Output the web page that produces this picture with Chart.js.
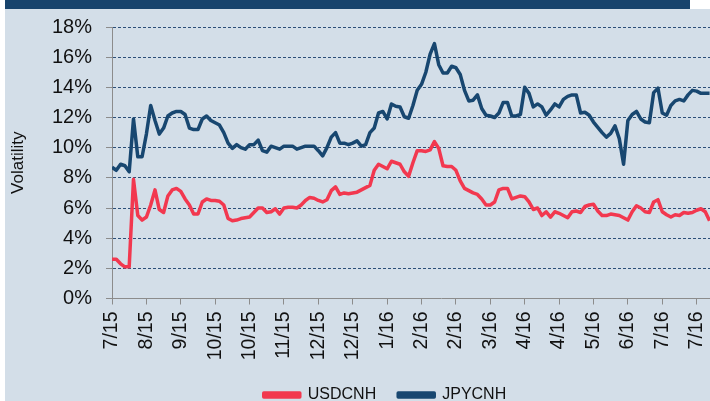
<!DOCTYPE html>
<html>
<head>
<meta charset="utf-8">
<script src="https://cdn.jsdelivr.net/npm/chart.js@4"></script>
<style>
  body{ margin:0; background:#fff; }
  #wrap{ position:relative; width:710px; height:401px; overflow:hidden; }
  #bg{ position:absolute; left:5px; top:0; width:705px; height:401px; background:#d3dee8; }
  #topbar{ position:absolute; left:5px; top:0; width:685px; height:9px; background:#17436c; }
  #topright{ position:absolute; left:690px; top:0; width:20px; height:9px; background:#fff; }
  #c{ position:absolute; left:0; top:0; }
</style>
</head>
<body>
<div id="wrap">
  <div id="bg"></div>
  <div id="topbar"></div>
  <div id="topright"></div>
  <canvas id="c" width="775" height="413"></canvas>
</div>
<script>
// tick labels, one every TICK_EVERY points
const xLabels = ['7/15','8/15','9/15','10/15','10/15','11/15','12/15','12/15','1/16',
  '2/16','2/16','3/16','4/16','4/16','5/16','6/16','7/16','7/16'];
const TICK_EVERY = 8;

const usdcnh = [
  2.6, 2.6, 2.3, 2.1, 2.1, 7.9, 5.5, 5.2, 5.4, 6.2,
  7.2, 5.9, 5.7, 6.8, 7.2, 7.3, 7.1, 6.6, 6.2, 5.6,
  5.6, 6.4, 6.6, 6.5, 6.5, 6.45, 6.2, 5.3, 5.15, 5.2,
  5.3, 5.35, 5.4, 5.7, 6.0, 6.0, 5.7, 5.75, 5.95, 5.6,
  6.0, 6.05, 6.05, 6.0, 6.2, 6.5, 6.7, 6.65, 6.5, 6.4,
  6.55, 7.15, 7.4, 6.9, 7.0, 6.95, 7.0, 7.05, 7.2, 7.35,
  7.5, 8.5, 8.9, 8.75, 8.6, 9.1, 9.0, 8.9, 8.4, 8.1,
  9.0, 9.8, 9.8, 9.75, 9.85, 10.4, 9.95, 8.8, 8.75, 8.75,
  8.5, 7.8, 7.3, 7.15, 7.0, 6.9, 6.6, 6.2, 6.2, 6.4,
  7.2, 7.3, 7.3, 6.6, 6.7, 6.8, 6.75, 6.4, 5.9, 6.0,
  5.5, 5.75, 5.4, 5.75, 5.65, 5.5, 5.35, 5.75, 5.8, 5.7,
  6.1, 6.2, 6.25, 5.8, 5.5, 5.5, 5.6, 5.55, 5.5, 5.35,
  5.2, 5.75, 6.15, 6.0, 5.75, 5.7, 6.4, 6.55, 5.75, 5.55,
  5.4, 5.55, 5.5, 5.7, 5.65, 5.7, 5.85, 5.95, 5.75, 5.15
];

const jpycnh = [
  8.7, 8.5, 8.9, 8.8, 8.4, 11.9, 9.4, 9.4, 10.9, 12.8,
  11.8, 10.9, 11.3, 12.1, 12.3, 12.4, 12.4, 12.2, 11.3, 11.2,
  11.2, 11.9, 12.1, 11.8, 11.65, 11.5, 11.0, 10.3, 9.95, 10.2,
  10.0, 9.9, 10.2, 10.2, 10.5, 9.8, 9.7, 10.1, 10.0, 9.9,
  10.1, 10.1, 10.1, 9.9, 10.0, 10.1, 10.1, 10.1, 9.8, 9.45,
  10.0, 10.7, 11.0, 10.3, 10.3, 10.2, 10.3, 10.45, 10.1, 10.2,
  11.0, 11.3, 12.3, 12.4, 11.9, 12.9, 12.75, 12.7, 12.05, 11.95,
  12.8, 13.8, 14.2, 15.0, 16.2, 16.9, 15.5, 14.95, 14.95, 15.4,
  15.3, 14.85, 13.8, 13.1, 13.15, 13.5, 12.6, 12.15, 12.1, 12.0,
  12.3, 13.0, 13.0, 12.1, 12.1, 12.2, 14.0, 13.6, 12.7, 12.9,
  12.7, 12.15, 12.5, 12.9, 12.7, 13.2, 13.4, 13.5, 13.5, 12.3,
  12.35, 12.15, 11.7, 11.35, 11.0, 10.7, 10.95, 11.45, 10.6, 8.9,
  11.8, 12.2, 12.4, 11.9, 11.7, 11.65, 13.65, 13.95, 12.3, 12.15,
  12.8, 13.1, 13.2, 13.1, 13.5, 13.8, 13.75, 13.6, 13.6, 13.6
];

const FONT = '"Liberation Sans", Arial, sans-serif';
const AXIS_GRAY = '#8c8c8c';

new Chart(document.getElementById('c'), {
  type:'line',
  data:{
    datasets:[
      { label:'USDCNH', data:usdcnh.map((v, i) => ({x:i, y:v})),
        borderColor:'#f2384f', backgroundColor:'#f2384f', borderWidth:3.5,
        pointRadius:0, tension:0, borderJoinStyle:'round' },
      { label:'JPYCNH', data:jpycnh.map((v, i) => ({x:i, y:v})),
        borderColor:'#184770', backgroundColor:'#184770', borderWidth:3.5,
        pointRadius:0, tension:0, borderJoinStyle:'round' }
    ]
  },
  options:{
    responsive:false,
    animation:false,
    devicePixelRatio:1,
    layout:{ padding:{ top:27, left:0, right:5, bottom:0 } },
    plugins:{
      tooltip:{ enabled:false },
      legend:{
        position:'bottom',
        labels:{ boxWidth:36, boxHeight:4, padding:22, color:'#111',
          font:{ family:FONT, size:16 } }
      }
    },
    scales:{
      x:{
        type:'linear', min:0, max:153.06,
        afterBuildTicks: s => { s.ticks = xLabels.map((_, k) => ({ value:k * TICK_EVERY })); },
        afterFit: s => { s.height = 66.5; },
        ticks:{ autoSkip:false, minRotation:90, maxRotation:90, padding:7, color:'#111',
          font:{ family:FONT, size:19.5 },
          callback:(v, i) => xLabels[i] },
        grid:{ drawOnChartArea:false, tickLength:6, tickColor:AXIS_GRAY },
        border:{ color:AXIS_GRAY }
      },
      y:{
        min:0, max:18,
        afterFit: s => { s.width = 112; },
        ticks:{ stepSize:2, padding:14, color:'#111',
          font:{ family:FONT, size:20 },
          callback:v => v + '%' },
        grid:{
          color: ctx => (ctx.tick && ctx.tick.value === 0) ? 'rgba(0,0,0,0)' : '#2c4f78',
          tickLength:6, tickColor:AXIS_GRAY, tickBorderDash:[]
        },
        border:{ color:AXIS_GRAY, dash:[3,2] },
        title:{ display:true, text:'Volatility', color:'#111',
          font:{ family:FONT, size:17 }, padding:{ top:8, bottom:0 } }
      }
    }
  }
});
</script>
</body>
</html>
